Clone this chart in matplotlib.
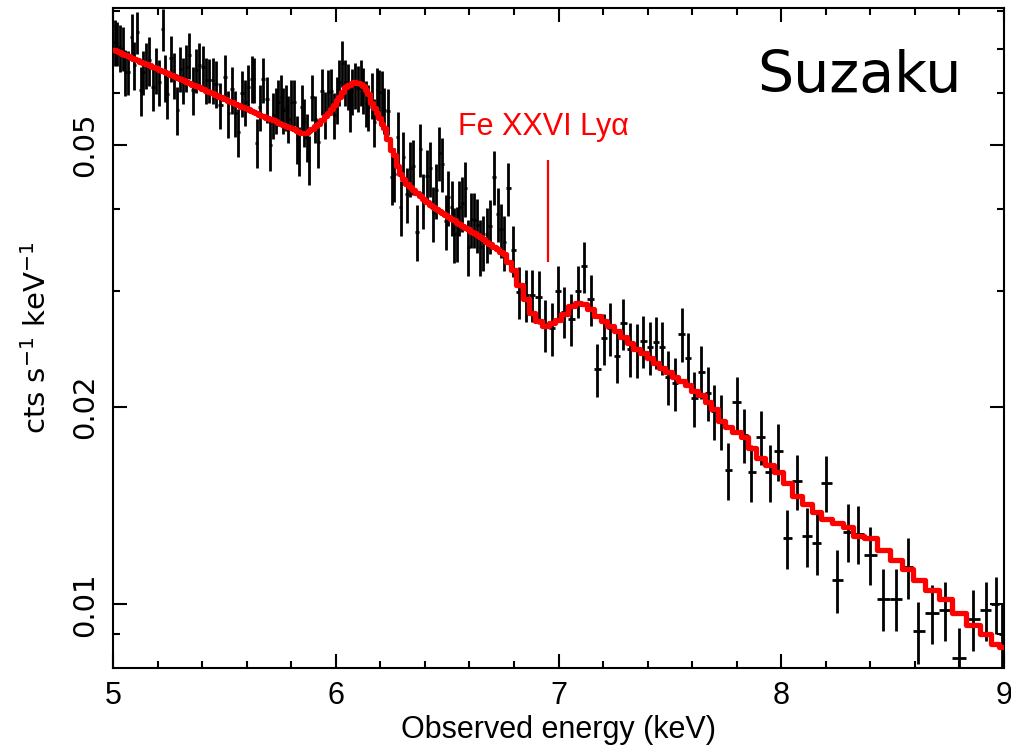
import numpy as np
import matplotlib
matplotlib.use("Agg")
import matplotlib.pyplot as plt
from matplotlib.ticker import FixedLocator, MultipleLocator, FixedFormatter

# ---------------- data ----------------
# segment A: 5.0 - 6.78 keV (fine binning)
energy_a = [5.009, 5.018, 5.031, 5.045, 5.054, 5.067, 5.085, 5.094, 5.108, 5.126,
            5.135, 5.148, 5.162, 5.180, 5.193, 5.207, 5.224, 5.233, 5.242, 5.260,
            5.274, 5.287, 5.301, 5.314, 5.328, 5.341, 5.359, 5.373, 5.386, 5.404,
            5.418, 5.431, 5.449, 5.462, 5.480, 5.503, 5.516, 5.534, 5.548, 5.561,
            5.579, 5.593, 5.606, 5.624, 5.633, 5.646, 5.660, 5.673, 5.691, 5.705,
            5.718, 5.732, 5.741, 5.754, 5.763, 5.777, 5.786, 5.799, 5.813, 5.826,
            5.835, 5.848, 5.857, 5.871, 5.880, 5.893, 5.907, 5.920, 5.938, 5.952,
            5.965, 5.979, 5.992, 6.006, 6.015, 6.028, 6.042, 6.055, 6.064, 6.073,
            6.086, 6.100, 6.113, 6.122, 6.136, 6.145, 6.163, 6.172, 6.185, 6.194,
            6.208, 6.217, 6.235, 6.253, 6.262, 6.279, 6.293, 6.302, 6.320, 6.333,
            6.347, 6.365, 6.378, 6.392, 6.410, 6.423, 6.437, 6.450, 6.464, 6.477,
            6.495, 6.504, 6.522, 6.531, 6.544, 6.553, 6.567, 6.580, 6.594, 6.607,
            6.621, 6.634, 6.648, 6.661, 6.679, 6.692, 6.710, 6.728, 6.742, 6.755,
            6.773]
rate_a = [0.0717, 0.0715, 0.0704, 0.0701, 0.0646, 0.0646, 0.0730, 0.0662, 0.0743, 0.0606,
          0.0646, 0.0662, 0.0673, 0.0612, 0.0650, 0.0623, 0.0750, 0.0634, 0.0598, 0.0678,
          0.0639, 0.0565, 0.0653, 0.0628, 0.0656, 0.0685, 0.0606, 0.0650, 0.0662, 0.0656,
          0.0628, 0.0628, 0.0628, 0.0620, 0.0575, 0.0634, 0.0559, 0.0608, 0.0559, 0.0523,
          0.0600, 0.0581, 0.0612, 0.0631, 0.0629, 0.0504, 0.0571, 0.0629, 0.0587, 0.0500,
          0.0555, 0.0565, 0.0581, 0.0592, 0.0565, 0.0571, 0.0548, 0.0581, 0.0581, 0.0510,
          0.0491, 0.0571, 0.0542, 0.0514, 0.0475, 0.0592, 0.0548, 0.0505, 0.0604, 0.0557,
          0.0602, 0.0604, 0.0555, 0.0587, 0.0623, 0.0666, 0.0623, 0.0615, 0.0569, 0.0604,
          0.0617, 0.0610, 0.0623, 0.0606, 0.0579, 0.0571, 0.0596, 0.0542, 0.0606, 0.0602,
          0.0600, 0.0565, 0.0563, 0.0447, 0.0452, 0.0514, 0.0402, 0.0479, 0.0421, 0.0461,
          0.0464, 0.0369, 0.0493, 0.0412, 0.0449, 0.0461, 0.0394, 0.0427, 0.0486, 0.0468,
          0.0383, 0.0417, 0.0402, 0.0366, 0.0367, 0.0402, 0.0408, 0.0430, 0.0350, 0.0386,
          0.0385, 0.0378, 0.0350, 0.0356, 0.0366, 0.0377, 0.0447, 0.0393, 0.0372, 0.0356,
          0.0430]
err_a = [0.0057, 0.0055, 0.0058, 0.0054, 0.0052, 0.0050, 0.0060, 0.0056, 0.0055, 0.0052,
         0.0050, 0.0053, 0.0058, 0.0049, 0.0052, 0.0050, 0.0056, 0.0052, 0.0050, 0.0054,
         0.0051, 0.0048, 0.0052, 0.0050, 0.0055, 0.0054, 0.0051, 0.0050, 0.0053, 0.0052,
         0.0050, 0.0049, 0.0051, 0.0050, 0.0047, 0.0051, 0.0046, 0.0050, 0.0045, 0.0044,
         0.0048, 0.0047, 0.0050, 0.0051, 0.0050, 0.0043, 0.0046, 0.0050, 0.0047, 0.0043,
         0.0045, 0.0046, 0.0047, 0.0048, 0.0046, 0.0046, 0.0045, 0.0047, 0.0047, 0.0043,
         0.0042, 0.0046, 0.0045, 0.0043, 0.0041, 0.0048, 0.0045, 0.0043, 0.0049, 0.0046,
         0.0049, 0.0049, 0.0045, 0.0048, 0.0050, 0.0053, 0.0050, 0.0050, 0.0046, 0.0049,
         0.0050, 0.0049, 0.0050, 0.0049, 0.0047, 0.0046, 0.0048, 0.0045, 0.0049, 0.0049,
         0.0049, 0.0046, 0.0046, 0.0042, 0.0043, 0.0048, 0.0039, 0.0045, 0.0040, 0.0044,
         0.0044, 0.0036, 0.0046, 0.0039, 0.0042, 0.0044, 0.0038, 0.0041, 0.0046, 0.0044,
         0.0037, 0.0040, 0.0038, 0.0035, 0.0035, 0.0038, 0.0039, 0.0041, 0.0034, 0.0037,
         0.0037, 0.0036, 0.0034, 0.0034, 0.0035, 0.0036, 0.0042, 0.0037, 0.0035, 0.0034,
         0.0040]
model_a = [0.0697, 0.0695, 0.0692, 0.0688, 0.0686, 0.0683, 0.0679, 0.0677, 0.0673, 0.0669,
           0.0667, 0.0664, 0.0661, 0.0657, 0.0654, 0.0651, 0.0647, 0.0645, 0.0643, 0.0639,
           0.0636, 0.0633, 0.0630, 0.0627, 0.0624, 0.0621, 0.0617, 0.0615, 0.0612, 0.0608,
           0.0605, 0.0602, 0.0599, 0.0596, 0.0592, 0.0587, 0.0584, 0.0581, 0.0578, 0.0576,
           0.0572, 0.0569, 0.0567, 0.0563, 0.0561, 0.0559, 0.0556, 0.0554, 0.0550, 0.0548,
           0.0545, 0.0543, 0.0541, 0.0539, 0.0537, 0.0535, 0.0533, 0.0531, 0.0528, 0.0525,
           0.0524, 0.0522, 0.0521, 0.0522, 0.0525, 0.0529, 0.0534, 0.0539, 0.0546, 0.0553,
           0.0559, 0.0567, 0.0575, 0.0585, 0.0591, 0.0602, 0.0613, 0.0616, 0.0618, 0.0621,
           0.0623, 0.0622, 0.0619, 0.0615, 0.0606, 0.0597, 0.0579, 0.0569, 0.0559, 0.0550,
           0.0539, 0.0531, 0.0511, 0.0491, 0.0483, 0.0465, 0.0452, 0.0444, 0.0436, 0.0431,
           0.0427, 0.0423, 0.0418, 0.0414, 0.0409, 0.0405, 0.0402, 0.0400, 0.0397, 0.0394,
           0.0391, 0.0389, 0.0386, 0.0384, 0.0381, 0.0379, 0.0376, 0.0374, 0.0372, 0.0369,
           0.0367, 0.0365, 0.0362, 0.0360, 0.0356, 0.0354, 0.0350, 0.0347, 0.0344, 0.0341,
           0.0332]

# segment B: 6.78 - 7.62 keV
energy_b = [6.796, 6.823, 6.854, 6.881, 6.912, 6.939, 6.971, 6.998, 7.025, 7.056,
            7.088, 7.114, 7.146, 7.173, 7.204, 7.231, 7.263, 7.290, 7.321, 7.352,
            7.379, 7.411, 7.438, 7.465, 7.492, 7.523, 7.554, 7.581, 7.608]
rate_b = [0.0346, 0.0299, 0.0296, 0.0296, 0.0294, 0.0266, 0.0263, 0.0300, 0.0279, 0.0272,
          0.0300, 0.0327, 0.0291, 0.0228, 0.0254, 0.0263, 0.0239, 0.0268, 0.0245, 0.0244,
          0.0252, 0.0246, 0.0251, 0.0246, 0.0222, 0.0217, 0.0258, 0.0237, 0.0206]
err_b = [0.0031, 0.0027, 0.0027, 0.0027, 0.0027, 0.0024, 0.0024, 0.0027, 0.0025, 0.0025,
         0.0027, 0.0029, 0.0026, 0.0021, 0.0023, 0.0024, 0.0022, 0.0024, 0.0023, 0.0023,
         0.0023, 0.0023, 0.0023, 0.0023, 0.0021, 0.0020, 0.0024, 0.0022, 0.0020]
model_b = [0.0323, 0.0306, 0.0291, 0.0278, 0.0270, 0.0265, 0.0268, 0.0271, 0.0277, 0.0284,
           0.0287, 0.0286, 0.0281, 0.0275, 0.0270, 0.0265, 0.0261, 0.0255, 0.0250, 0.0245,
           0.0241, 0.0237, 0.0233, 0.0229, 0.0226, 0.0222, 0.0219, 0.0216, 0.0211]

# segment C: 7.62 - 8.27 keV
energy_c = [7.640, 7.671, 7.698, 7.730, 7.761, 7.801, 7.833, 7.864, 7.909, 7.949,
            7.985, 8.026, 8.071, 8.116, 8.160, 8.201, 8.250]
rate_c = [0.0226, 0.0210, 0.0197, 0.0190, 0.0160, 0.0203, 0.0181, 0.0159, 0.0180, 0.0159,
          0.0171, 0.0126, 0.0154, 0.0127, 0.0124, 0.0153, 0.0109]
err_c = [0.0021, 0.0020, 0.0019, 0.0018, 0.0016, 0.0019, 0.0017, 0.0016, 0.0017, 0.0016,
         0.0017, 0.0013, 0.0015, 0.0013, 0.0013, 0.0015, 0.0012]
model_c = [0.0208, 0.0203, 0.0198, 0.0190, 0.0186, 0.0183, 0.0180, 0.0173, 0.0167, 0.0163,
           0.0159, 0.0153, 0.0146, 0.0142, 0.0138, 0.0135, 0.0133]

# segment D: 8.27 - 9.0 keV
energy_d = [8.300, 8.345, 8.398, 8.457, 8.515, 8.569, 8.614, 8.677, 8.735, 8.798,
            8.861, 8.919, 8.964, 8.991]
rate_d = [0.0129, 0.0128, 0.0119, 0.0102, 0.0102, 0.0114, 0.0091, 0.0097, 0.0098, 0.0083,
          0.0095, 0.0098, 0.0100, 0.0090]
err_d = [0.0013, 0.0013, 0.0012, 0.0011, 0.0011, 0.0012, 0.0010, 0.0010, 0.0010, 0.0009,
         0.0010, 0.0010, 0.0010, 0.0010]
model_d = [0.0131, 0.0127, 0.0126, 0.0121, 0.0117, 0.0113, 0.0109, 0.0105, 0.0102, 0.0097,
           0.0093, 0.0090, 0.0087, 0.0086]

x_ticks = [5, 6, 7, 8, 9]
x_ticklabels = ["5", "6", "7", "8", "9"]
y_ticks = [0.01, 0.02, 0.05]
y_ticklabels = ["0.01", "0.02", "0.05"]
y_minor = [0.009, 0.03, 0.04, 0.06, 0.07, 0.08]

line_energy = 6.953
line_range = [0.0332, 0.0475]
line_label = "Fe XXVI Ly\u03b1"
line_label_pos = (6.549, 0.0518)

# ---------------- assemble ----------------
energy = np.array(energy_a + energy_b + energy_c + energy_d)
rate = np.array(rate_a + rate_b + rate_c + rate_d)
err = np.array(err_a + err_b + err_c + err_d)
model = np.array(model_a + model_b + model_c + model_d)

mids = 0.5 * (energy[1:] + energy[:-1])
edges = np.concatenate([[5.0], mids, [9.0]])
xerr = np.vstack([energy - edges[:-1], edges[1:] - energy])

plt.rcParams['font.family'] = ['Liberation Sans', 'DejaVu Sans']

fig = plt.figure(figsize=(10.11, 7.49), dpi=100)
ax = fig.add_axes([0.1118, 0.1081, 0.8813, 0.8812])

ax.errorbar(energy, rate, yerr=err, xerr=xerr, fmt='none', ecolor='black',
            elinewidth=2.0, capsize=0, zorder=2)
ax.stairs(model, edges, baseline=None, color='#ff0000', lw=3.8, zorder=3,
          joinstyle='round', capstyle='round')

ax.set_yscale('log')
ax.set_xlim(5, 9)
ax.set_ylim(0.0080, 0.0808)

ax.xaxis.set_major_locator(FixedLocator(x_ticks))
ax.xaxis.set_major_formatter(FixedFormatter(x_ticklabels))
ax.xaxis.set_minor_locator(MultipleLocator(0.2))
ax.yaxis.set_major_locator(FixedLocator(y_ticks))
ax.yaxis.set_major_formatter(FixedFormatter(y_ticklabels))
ax.yaxis.set_minor_locator(FixedLocator(y_minor))
ax.yaxis.set_minor_formatter(FixedFormatter([]))

ax.tick_params(which='both', direction='in', top=True, right=True, width=1.5)
ax.tick_params(which='major', length=10)
ax.tick_params(which='minor', length=5)
ax.tick_params(axis='x', which='major', labelsize=22, pad=9)
ax.tick_params(axis='y', which='major', labelsize=21, pad=10)
for lbl in ax.get_yticklabels():
    lbl.set_rotation(90)
    lbl.set_va('center')
    lbl.set_fontfamily('DejaVu Sans')

for sp in ax.spines.values():
    sp.set_linewidth(1.5)

ax.set_xlabel("Observed energy (keV)", fontsize=22, labelpad=3)
ax.set_ylabel("cts s$^{-1}$ keV$^{-1}$", fontsize=21, family='DejaVu Sans', labelpad=14)

ax.vlines(line_energy, line_range[0], line_range[1], color='#ff0000', lw=1.6, zorder=4)
ax.text(line_label_pos[0], line_label_pos[1], line_label, color='#ff0000',
        fontsize=22, ha='left', va='baseline')
ax.text(0.723, 0.873, "Suzaku", transform=ax.transAxes, fontsize=41,
        family='DejaVu Sans', ha='left', va='baseline', color='black')

fig.savefig("out.png", dpi=100)
